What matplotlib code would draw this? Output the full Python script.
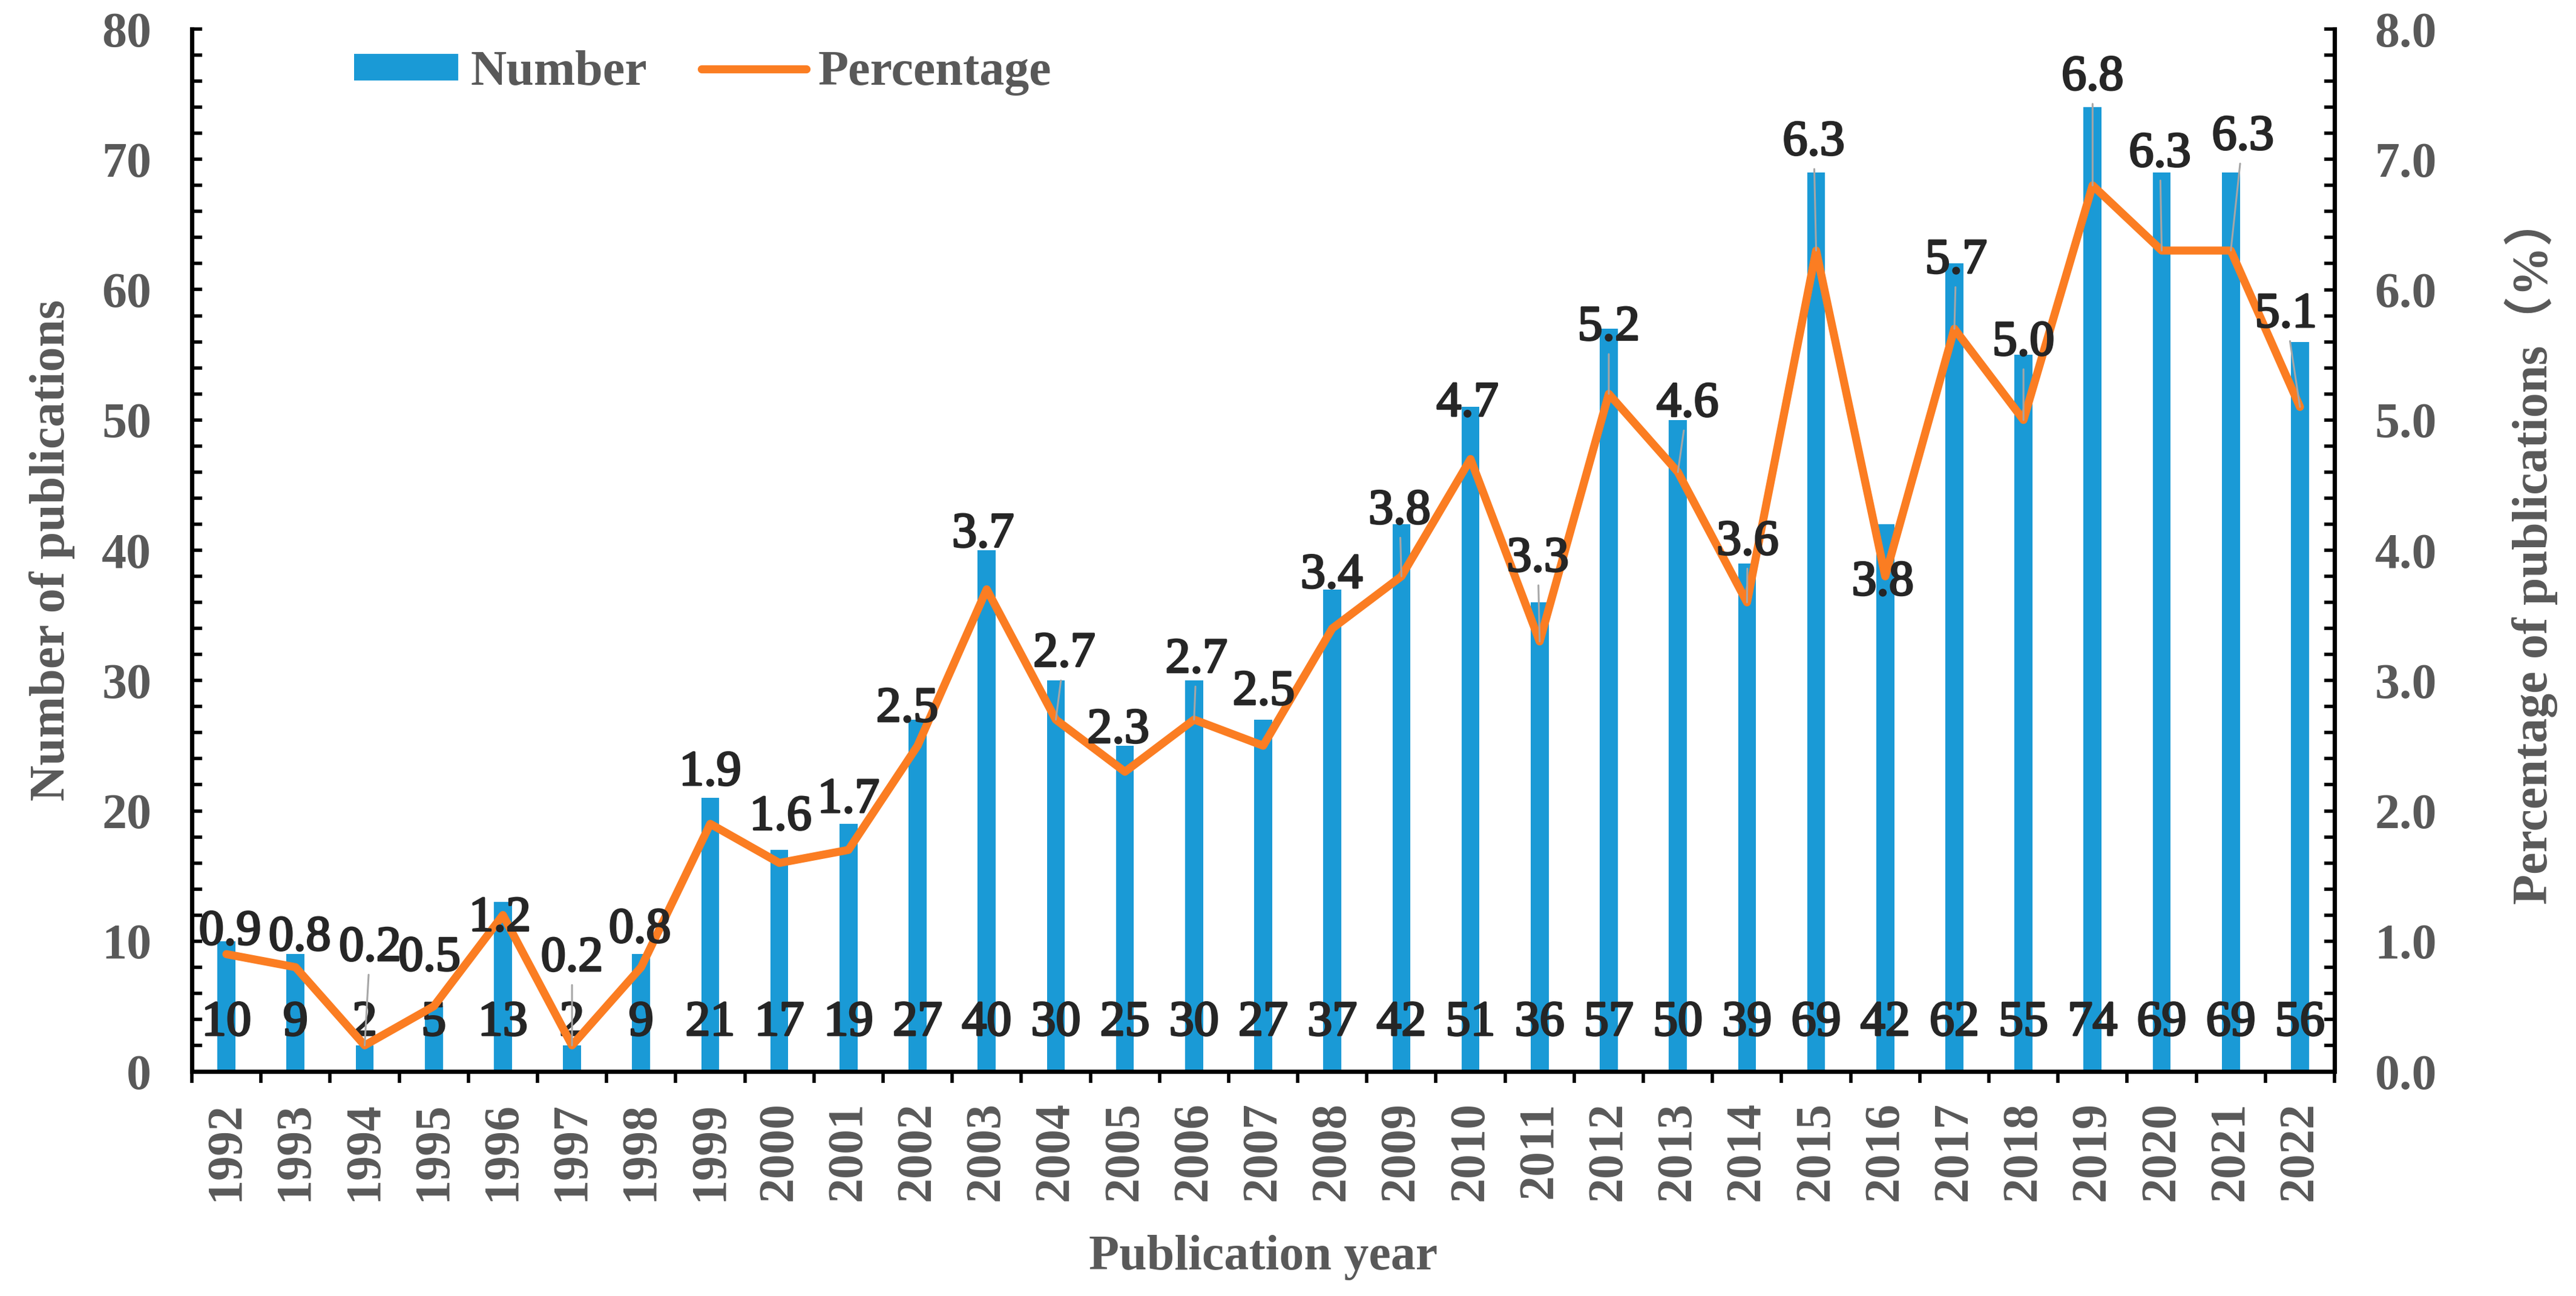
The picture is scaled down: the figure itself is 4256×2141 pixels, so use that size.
import matplotlib
matplotlib.use("Agg")
import matplotlib.pyplot as plt
import matplotlib.patheffects as pe
from matplotlib.ticker import MultipleLocator, FormatStrFormatter

# --- Data --------------------------------------------------------------------
years = [str(y) for y in range(1992, 2023)]
numbers = [10, 9, 2, 5, 13, 2, 9, 21, 17, 19, 27, 40, 30, 25, 30, 27,
           37, 42, 51, 36, 57, 50, 39, 69, 42, 62, 55, 74, 69, 69, 56]
percentages = [0.9, 0.8, 0.2, 0.5, 1.2, 0.2, 0.8, 1.9, 1.6, 1.7, 2.5, 3.7,
               2.7, 2.3, 2.7, 2.5, 3.4, 3.8, 4.7, 3.3, 5.2, 4.6, 3.6, 6.3,
               3.8, 5.7, 5.0, 6.8, 6.3, 6.3, 5.1]

# where each percentage label sits relative to its point (pixels: dx, dy up)
pct_label_offsets = [(6, 36), (7, 48), (9, 160), (-7, 79), (-5, -6), (0, 143),
                     (-2, 61), (0, 84), (2, 75), (0, 82), (-17, 60), (-6, 90),
                     (14, 108), (-11, 68), (4, 98), (1, 88), (-1, 87), (-3, 107),
                     (-5, 91), (-3, 136), (0, 109), (16, 112), (1, 99), (-4, 178),
                     (-4, -11), (3, 112), (0, 127), (0, 178), (-3, 159), (20, 187),
                     (-23, 152)]

# --- Style -------------------------------------------------------------------
plt.rcParams['font.family'] = ['Liberation Serif', 'Noto Sans CJK SC']
BAR_COLOR = "#1a9ad6"
LINE_COLOR = "#fb7d22"
GREY = "#595959"
DARK = "#262626"
FS = 29.5
# the source labels are a bit heavier than a crisp regular face
heavy = [pe.withStroke(linewidth=1.2, foreground=DARK)]

fig, ax = plt.subplots(figsize=(21.28, 10.705), dpi=200)
fig.subplots_adjust(left=317 / 4256, right=3857 / 4256,
                    bottom=1 - 1770 / 2141, top=1 - 48 / 2141)
ax2 = ax.twinx()

x = list(range(len(years)))

bars = ax.bar(x, numbers, width=0.26, color=BAR_COLOR, label="Number", zorder=2)
line, = ax2.plot(x, percentages, color=LINE_COLOR, linewidth=4.8,
                 solid_capstyle="round", solid_joinstyle="round",
                 label="Percentage", zorder=3)

# number labels near the bar base
for i, n in zip(x, numbers):
    ax.text(i, 3.7, str(n), ha="center", va="center", fontsize=FS,
            color=DARK, zorder=4, path_effects=heavy)

# percentage labels with leader lines where they were pulled away
for i, (p, (dx, dy)) in enumerate(zip(percentages, pct_label_offsets)):
    arrow = None
    if dy >= 95:
        arrow = dict(arrowstyle="-", color="#a6a6a6", lw=1.1,
                     shrinkA=0, shrinkB=0)
    ax2.annotate(f"{p:.1f}", xy=(i, p), xytext=(dx, dy),
                 textcoords="offset pixels", ha="center", va="center",
                 fontsize=FS, color=DARK, arrowprops=arrow, zorder=5,
                 path_effects=heavy)

# --- Axes --------------------------------------------------------------------
ax.set_xlim(-0.5, len(years) - 0.5)
ax.set_ylim(0, 80)
ax2.set_ylim(0, 8)

ax.set_xticks(x)
ax.set_xticklabels(years, rotation=90)
ax.set_xticks([i - 0.5 for i in range(len(years) + 1)], minor=True)
ax.tick_params(axis="x", which="major", length=0, pad=18,
               labelsize=FS, labelcolor=GREY)
ax.tick_params(axis="x", which="minor", length=7, width=2, direction="out")

ax.yaxis.set_major_locator(MultipleLocator(10))
ax.yaxis.set_minor_locator(MultipleLocator(2))
ax.tick_params(axis="y", which="both", direction="in", length=6, width=2,
               labelsize=FS, labelcolor=GREY, pad=24)

ax2.yaxis.set_major_locator(MultipleLocator(1))
ax2.yaxis.set_minor_locator(MultipleLocator(0.2))
ax2.yaxis.set_major_formatter(FormatStrFormatter("%.1f"))
ax2.tick_params(axis="y", which="both", direction="in", length=6, width=2,
                labelsize=FS, labelcolor=GREY, pad=24)

for lab in ax.get_xticklabels() + ax.get_yticklabels() + ax2.get_yticklabels():
    lab.set_fontweight("bold")

for a in (ax, ax2):
    a.spines["top"].set_visible(False)
    for s in ("left", "right", "bottom"):
        a.spines[s].set_linewidth(2.5)
        a.spines[s].set_color("black")

ax.set_xlabel("Publication year", fontsize=FS, fontweight="bold",
              color=GREY, labelpad=20)
ax.set_ylabel("Number of publications", fontsize=FS, fontweight="bold",
              color=GREY, labelpad=16)
ax2.set_ylabel("Percentage of publications（%）", fontsize=FS,
               fontweight="bold", color=GREY, labelpad=40)

# --- Legend ------------------------------------------------------------------
ax2.legend([bars, line], ["Number", "Percentage"], loc="center left",
           bbox_to_anchor=(0.0757, 0.958), ncol=2, frameon=False,
           borderpad=0, borderaxespad=0, handlelength=2.1, handleheight=0.45,
           handletextpad=0.25, columnspacing=1.1, labelcolor=GREY,
           prop=dict(size=FS, weight="bold"))

fig.savefig("out.png", dpi=200)
